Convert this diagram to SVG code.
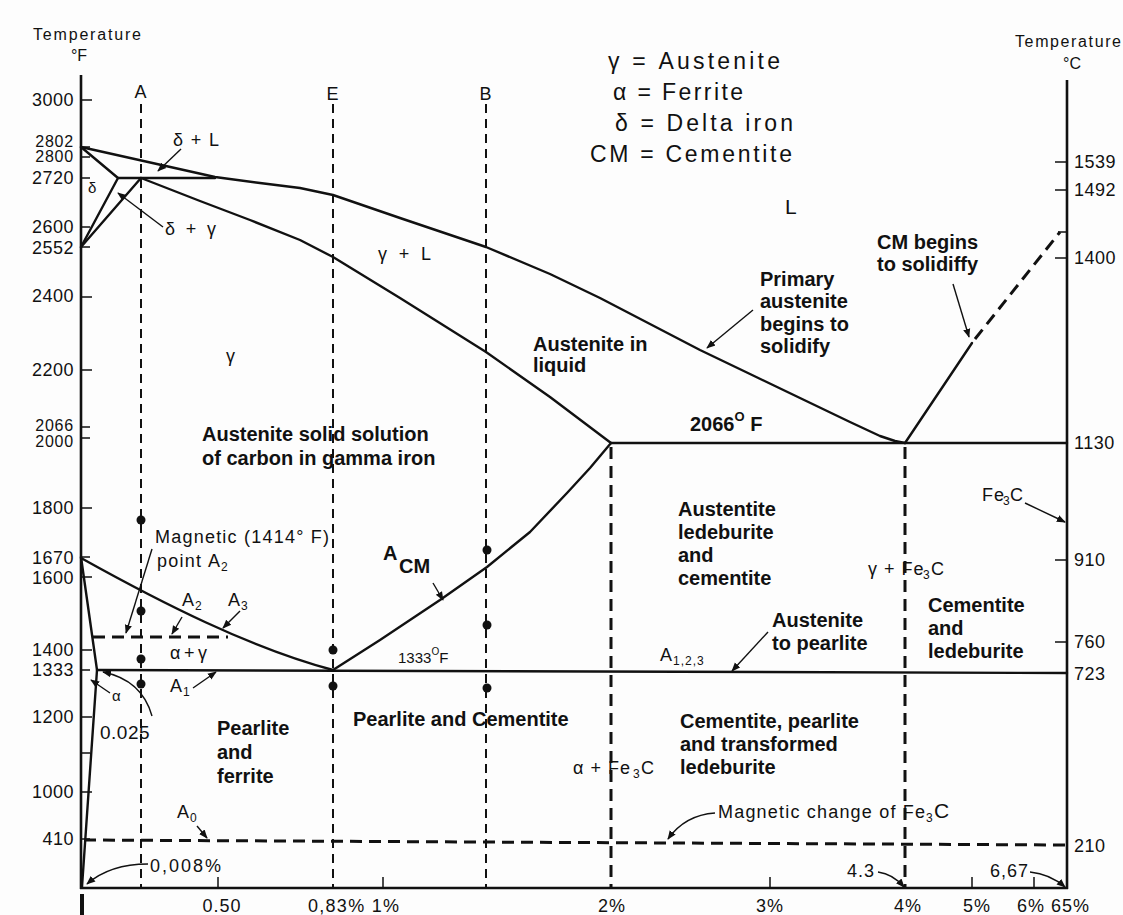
<svg xmlns="http://www.w3.org/2000/svg" width="1123" height="915" viewBox="0 0 1123 915">
<defs>
<marker id="ah" viewBox="0 0 10 10" refX="9" refY="5" markerWidth="9" markerHeight="9" markerUnits="userSpaceOnUse" orient="auto"><path d="M0,1 L10,5 L0,9 z" fill="#111"/></marker>
<style>
.ln{fill:none;stroke:#111;stroke-width:2.4;stroke-linejoin:round;stroke-linecap:round}
.ax{fill:none;stroke:#111;stroke-width:2.6}
.tk{stroke:#111;stroke-width:1.5}
.ds{fill:none;stroke:#111;stroke-width:2;stroke-dasharray:9 6}
.dsb{fill:none;stroke:#111;stroke-width:3;stroke-dasharray:12 7}
.ld{fill:none;stroke:#111;stroke-width:1.4;marker-end:url(#ah)}
.dot{fill:#111}
text{font-family:"Liberation Sans",Arial,sans-serif;fill:#111}
.t{font-size:18px;letter-spacing:1px}
.b{font-size:20px;font-weight:bold}
.yl{font-size:18px;text-anchor:end;letter-spacing:0.5px}
.yl2{font-size:16px;text-anchor:end;letter-spacing:0.8px}
.yr{font-size:18px;letter-spacing:0.5px}
.lg{font-size:23px}
.sub{font-size:12px}
</style>
</defs>
<rect width="1123" height="915" fill="#fdfdfd"/>

<g id="axes">
<line class="ax" x1="81" y1="75" x2="81" y2="889"/>
<line class="ax" x1="1067" y1="80" x2="1067" y2="889"/>
<line class="ax" x1="80" y1="888" x2="1068" y2="888"/>
<rect x="80" y="894" width="4" height="21" fill="#111"/>
<g id="left-ticks">
<path class="tk" d="M81,100H92 M81,147H90 M81,157H90 M81,178H90 M81,227H90 M81,247H90 M81,297H92 M81,370H92 M81,427H90 M81,438H90 M81,508H92 M81,557H90 M81,577H92 M81,650H92 M81,670H90 M81,717H92 M81,753H90 M81,792H92 M81,839H90"/>
</g>
<g id="right-ticks">
<path class="tk" d="M1055,162H1067 M1055,190H1067 M1058,232H1067 M1055,258H1067 M1055,560H1067 M1055,642H1067"/>
</g>
<g id="bottom-ticks">
<path class="tk" d="M218,888V877 M383,888V877 M770,888V877 M972,888V877 M1034,888V877"/>
</g>
<g id="left-labels">
<text class="yl" x="74" y="106">3000</text>
<text class="yl2" x="74" y="147">2802</text>
<text class="yl2" x="74" y="162">2800</text>
<text class="yl" x="74" y="184">2720</text>
<text class="yl" x="74" y="233">2600</text>
<text class="yl" x="74" y="254">2552</text>
<text class="yl" x="74" y="302">2400</text>
<text class="yl" x="74" y="376">2200</text>
<text class="yl2" x="74" y="431">2066</text>
<text class="yl2" x="74" y="447">2000</text>
<text class="yl" x="74" y="514">1800</text>
<text class="yl" x="74" y="564">1670</text>
<text class="yl" x="74" y="584">1600</text>
<text class="yl" x="74" y="656">1400</text>
<text class="yl" x="74" y="676">1333</text>
<text class="yl" x="74" y="723">1200</text>
<text class="yl" x="74" y="798">1000</text>
<text class="yl" x="74" y="845">410</text>
</g>
<g id="right-labels">
<text class="yr" x="1074" y="168">1539</text>
<text class="yr" x="1074" y="196">1492</text>
<text class="yr" x="1074" y="264">1400</text>
<text class="yr" x="1074" y="449">1130</text>
<text class="yr" x="1074" y="566">910</text>
<text class="yr" x="1074" y="648">760</text>
<text class="yr" x="1074" y="680">723</text>
<text class="yr" x="1074" y="852">210</text>
</g>
<g id="bottom-labels">
<text class="t" x="222" y="912" text-anchor="middle">0.50</text>
<text class="t" x="308" y="912" textLength="92">0,83% 1%</text>
<text class="t" x="612" y="912" text-anchor="middle">2%</text>
<text class="t" x="770" y="912" text-anchor="middle">3%</text>
<text class="t" x="908" y="912" text-anchor="middle">4%</text>
<text class="t" x="977" y="912" text-anchor="middle">5%</text>
<text class="t" x="1017" y="912" textLength="73">6% 65%</text>
</g>
<g id="axis-titles">
<text x="33" y="40" font-size="16" textLength="108">Temperature</text>
<text x="79" y="61" font-size="16" text-anchor="middle">°F</text>
<text x="1015" y="47" font-size="16" textLength="106">Temperature</text>
<text x="1072" y="69" font-size="16" text-anchor="middle">°C</text>
</g>
</g>

<g id="connectors">
<g id="phase-lines">
<polyline class="ln" points="81,147 215,177 260,183 300,188 333,195 400,218 486,247 550,274 600,298 650,324 700,350 750,374 800,398 850,422 880,436 895,441 905,443"/>
<polyline class="ln" points="81,147 118,178 81,247"/>
<line class="ln" x1="118" y1="178" x2="215" y2="178"/>
<line class="ln" x1="141" y1="178" x2="81" y2="247"/>
<polyline class="ln" points="141,178 200,201 250,220 300,240 333,257 400,298 486,352 550,397 611,443"/>
<line class="ln" x1="611" y1="443" x2="1067" y2="443"/>
<polyline class="ln" points="905,443 972,343"/>
<path class="ln" d="M81,558 C160,602 250,648 333,670"/>
<polyline class="ln" points="333,670 380,640 440,600 487,567 530,532 567,493 590,468 611,443"/>
<polyline class="ln" points="81,557 97,670 82,887"/>
<line class="ln" x1="97" y1="670" x2="1067" y2="673"/>
</g>
<g id="dashed-lines">
<line class="ds" x1="141" y1="104" x2="141" y2="888"/>
<line class="ds" x1="333" y1="104" x2="333" y2="888"/>
<line class="ds" x1="486" y1="104" x2="486" y2="888"/>
<line class="dsb" x1="611" y1="447" x2="611" y2="888"/>
<line class="dsb" x1="905" y1="447" x2="905" y2="888"/>
<line class="dsb" x1="93" y1="637" x2="228" y2="637" stroke-width="2.4"/>
<line class="dsb" x1="84" y1="840" x2="1067" y2="845" stroke-width="2.4" stroke-dasharray="14 9"/>
<line class="dsb" x1="975" y1="339" x2="1060" y2="232" stroke-dasharray="10 6"/>
</g>
<g id="leaders">
<line class="ld" x1="181" y1="149" x2="158" y2="171"/>
<line class="ld" x1="163" y1="227" x2="118" y2="193"/>
<line class="ld" x1="953" y1="284" x2="969" y2="337"/>
<line class="ld" x1="753" y1="310" x2="707" y2="348"/>
<line class="ld" x1="433" y1="583" x2="443" y2="600"/>
<line class="ld" x1="1025" y1="503" x2="1065" y2="522"/>
<line class="ld" x1="768" y1="632" x2="732" y2="671"/>
<line class="ld" x1="152" y1="549" x2="126" y2="633"/>
<line class="ld" x1="182" y1="617" x2="172" y2="634"/>
<line class="ld" x1="240" y1="611" x2="223" y2="628"/>
<line class="ld" x1="193" y1="688" x2="216" y2="672"/>
<line class="ld" x1="110" y1="693" x2="91" y2="680"/>
<path class="ld" d="M152,716 Q142,680 103,672"/>
<line class="ld" x1="197" y1="826" x2="207" y2="838"/>
<path class="ld" d="M148,864 Q110,864 87,884"/>
<path class="ld" d="M715,813 Q685,815 668,839"/>
<path class="ld" d="M878,872 Q893,874 904,887"/>
<path class="ld" d="M1030,872 Q1050,874 1065,887"/>
</g>
<g id="points">
<circle class="dot" cx="141" cy="520" r="4.5"/>
<circle class="dot" cx="141" cy="611" r="4.5"/>
<circle class="dot" cx="141" cy="659" r="4.5"/>
<circle class="dot" cx="141" cy="684" r="4.5"/>
<circle class="dot" cx="333" cy="650" r="4.5"/>
<circle class="dot" cx="333" cy="686" r="4.5"/>
<circle class="dot" cx="487" cy="550" r="4.5"/>
<circle class="dot" cx="487" cy="625" r="4.5"/>
<circle class="dot" cx="487" cy="688" r="4.5"/>
</g>
</g>

<g id="line-labels">
<text class="t" x="141" y="98" text-anchor="middle">A</text>
<text class="t" x="333" y="100" text-anchor="middle">E</text>
<text class="t" x="486" y="100" text-anchor="middle">B</text>
</g>

<g id="legend">
<text class="lg" x="608" y="69" textLength="172">γ = Austenite</text>
<text class="lg" x="613" y="100" textLength="130">α = Ferrite</text>
<text class="lg" x="615" y="131" textLength="178">δ = Delta  iron</text>
<text class="lg" x="590" y="162" textLength="202">CM = Cementite</text>
</g>

<g id="region-labels">
<text x="88" y="193" font-size="15">δ</text>
<text class="t" x="173" y="146" textLength="47">δ + L</text>
<text class="t" x="165" y="235" textLength="52">δ + γ</text>
<text x="785" y="214" font-size="21">L</text>
<text class="t" x="378" y="260" textLength="54">γ + L</text>
<text class="t" x="226" y="362">γ</text>
<g id="cm-begins"><text class="b" x="877" y="249">CM begins</text><text class="b" x="877" y="271">to solidiffy</text></g>
<g id="primary"><text class="b" x="760" y="286">Primary</text><text class="b" x="760" y="308">austenite</text><text class="b" x="760" y="331">begins to</text><text class="b" x="760" y="353">solidify</text></g>
<g id="aust-liquid"><text class="b" x="533" y="351">Austenite in</text><text class="b" x="533" y="372">liquid</text></g>
<g id="aust-solid"><text class="b" x="202" y="441">Austenite solid solution</text><text class="b" x="202" y="465">of carbon in gamma iron</text></g>
<text class="b" x="690" y="431">2066<tspan font-size="13" dy="-10">O</tspan><tspan dy="10"> F</tspan></text>
<g id="aust-led"><text class="b" x="678" y="516">Austentite</text><text class="b" x="678" y="539">ledeburite</text><text class="b" x="678" y="562">and</text><text class="b" x="678" y="585">cementite</text></g>
<g id="gfe3c"><text class="t" x="868" y="575">γ + Fe</text><text class="sub" x="923" y="579">3</text><text class="t" x="931" y="575">C</text></g>
<g id="fe3c-r"><text class="t" x="982" y="501">Fe</text><text class="sub" x="1003" y="505">3</text><text class="t" x="1010" y="501">C</text></g>
<g id="cem-led"><text class="b" x="928" y="612">Cementite</text><text class="b" x="928" y="635">and</text><text class="b" x="928" y="658">ledeburite</text></g>
<g id="aust-pearl"><text class="b" x="772" y="627">Austenite</text><text class="b" x="772" y="650">to pearlite</text></g>
<text class="t" x="660" y="661">A<tspan font-size="12" dy="4">1,2,3</tspan></text>
<text x="398" y="663" font-size="15">1333<tspan font-size="10" dy="-8">O</tspan><tspan dy="8">F</tspan></text>
<text class="b" x="383" y="560" font-size="18">A</text>
<text class="b" x="399" y="573" font-size="22">CM</text>
<text class="t" x="155" y="543" textLength="175">Magnetic (1414° F)</text>
<text class="t" x="157" y="567" textLength="45">point</text>
<text class="t" x="208" y="567">A<tspan font-size="12" dy="4">2</tspan></text>
<text class="t" x="182" y="606">A<tspan font-size="12" dy="4">2</tspan></text>
<text class="t" x="228" y="606">A<tspan font-size="12" dy="4">3</tspan></text>
<text class="t" x="170" y="659" textLength="38">α + γ</text>
<text class="t" x="170" y="692">A<tspan font-size="12" dy="4">1</tspan></text>
<text x="112" y="701" font-size="15">α</text>
<text x="100" y="739" font-size="19" letter-spacing="0.5">0.025</text>
<g id="pearl-ferr"><text class="b" x="217" y="735">Pearlite</text><text class="b" x="217" y="759">and</text><text class="b" x="217" y="783">ferrite</text></g>
<text class="t" x="177" y="818">A<tspan font-size="12" dy="4">0</tspan></text>
<text class="t" x="150" y="872" textLength="72">0,008%</text>
<text class="b" x="353" y="726">Pearlite and Cementite</text>
<g id="afe3c"><text class="t" x="573" y="774">α + Fe</text><text class="sub" x="633" y="778">3</text><text class="t" x="641" y="774">C</text></g>
<g id="cem-pearl"><text class="b" x="680" y="728">Cementite, pearlite</text><text class="b" x="680" y="751">and transformed</text><text class="b" x="680" y="774">ledeburite</text></g>
<g id="mag-change"><text class="t" x="718" y="818" textLength="208">Magnetic change of Fe</text><text class="sub" x="926" y="822">3</text><text x="934" y="818" font-size="21">C</text></g>
<text class="t" x="847" y="877">4.3</text>
<text class="t" x="990" y="877">6,67</text>
</g>
</svg>
